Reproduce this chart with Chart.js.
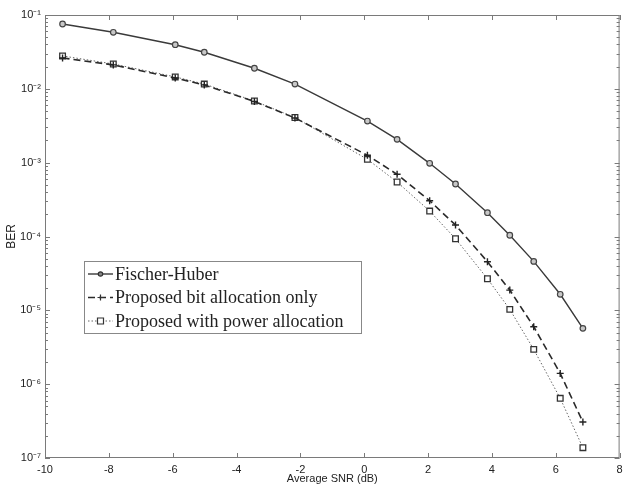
<!DOCTYPE html>
<html>
<head>
<meta charset="utf-8">
<script src="https://cdn.jsdelivr.net/npm/chart.js@4"></script>
<style>
  html, body { margin: 0; padding: 0; background: #fff; }
  #wrap { width: 625px; height: 489px; }
</style>
</head>
<body>
<div id="wrap"><canvas id="berChart"></canvas></div>
<script>
(() => {
    'use strict';

    // Average SNR (dB) at each simulated point
    const snr = [-9.45, -7.86, -5.92, -5.01, -3.44, -2.17, 0.10, 1.03, 2.05, 2.86, 3.86, 4.56, 5.31, 6.14, 6.85];

    const fischerHuber = [7.55e-2, 5.83e-2, 3.96e-2, 3.13e-2, 1.90e-2, 1.16e-2, 3.66e-3, 2.07e-3, 9.8e-4, 5.14e-4, 2.10e-4, 1.04e-4, 4.6e-5, 1.65e-5, 5.7e-6];
    const bitOnly = [2.62e-2, 2.11e-2, 1.40e-2, 1.13e-2, 6.73e-3, 4.03e-3, 1.26e-3, 6.96e-4, 3.05e-4, 1.43e-4, 4.56e-5, 1.88e-5, 6.0e-6, 1.40e-6, 3.07e-7];
    const powerAlloc = [2.79e-2, 2.17e-2, 1.45e-2, 1.16e-2, 6.84e-3, 4.09e-3, 1.11e-3, 5.47e-4, 2.21e-4, 9.33e-5, 2.68e-5, 1.03e-5, 2.96e-6, 6.43e-7, 1.38e-7];

    const seriesNames = ['Fischer-Huber', 'Proposed bit allocation only', 'Proposed with power allocation'];
    const xTicks = [-10, -8, -6, -4, -2, 0, 2, 4, 6, 8];
    const yDecades = [1e-7, 1e-6, 1e-5, 1e-4, 1e-3, 1e-2, 1e-1];

    const sup = { '-': '⁻', '0': '⁰', '1': '¹', '2': '²', '3': '³', '4': '⁴', '5': '⁵', '6': '⁶', '7': '⁷', '8': '⁸', '9': '⁹' };
    const powLabel = v => '10' + String(Math.round(Math.log10(v))).split('').map(c => sup[c]).join('');

    const toPoints = ys => ys.map((y, i) => ({ x: snr[i], y }));
    const ink = '#333';
    const frame = '#7a7a7a';
    const labelFont = { family: 'Liberation Sans, Arial', size: 11 };

    // MATLAB-like box with inward ticks on all four sides
    const boxTicks = {
        id: 'boxTicks',
        afterDraw(chart) {
            const { ctx, chartArea: a, scales: { x, y } } = chart;
            ctx.save();
            ctx.strokeStyle = frame;
            ctx.lineWidth = 1;
            ctx.strokeRect(a.left + 0.5, a.top + 0.5, a.right - a.left - 1, a.bottom - a.top - 1);
            ctx.beginPath();
            xTicks.forEach(v => {
                const px = Math.round(x.getPixelForValue(v)) + 0.5;
                ctx.moveTo(px, a.bottom); ctx.lineTo(px, a.bottom - 5);
                ctx.moveTo(px, a.top); ctx.lineTo(px, a.top + 5);
            });
            yDecades.forEach((d, i) => {
                const py = Math.round(y.getPixelForValue(d)) + 0.5;
                ctx.moveTo(a.left, py); ctx.lineTo(a.left + 5, py);
                ctx.moveTo(a.right, py); ctx.lineTo(a.right - 5, py);
                if (i === yDecades.length - 1) return;
                for (let k = 2; k <= 9; k++) {
                    const my = Math.round(y.getPixelForValue(d * k)) + 0.5;
                    ctx.moveTo(a.left, my); ctx.lineTo(a.left + 3, my);
                    ctx.moveTo(a.right, my); ctx.lineTo(a.right - 3, my);
                }
            });
            ctx.stroke();
            ctx.restore();
        }
    };

    // legend box drawn inside the plot, lower left
    const boxLegend = {
        id: 'boxLegend',
        afterDraw(chart) {
            const { ctx, chartArea: a } = chart;
            const left = a.left + 39, top = a.top + 246, w = 277, h = 72;
            ctx.save();
            ctx.fillStyle = '#fff';
            ctx.fillRect(left, top, w, h);
            ctx.strokeStyle = '#888';
            ctx.lineWidth = 1;
            ctx.strokeRect(left + 0.5, top + 0.5, w, h);
            ctx.font = '18px "Liberation Serif", "Times New Roman", serif';
            ctx.textBaseline = 'middle';
            chart.data.datasets.forEach((ds, i) => {
                const cy = top + 13 + i * 23.5;
                const x0 = left + 4, x1 = left + 29;
                ctx.strokeStyle = ds.borderColor;
                ctx.lineWidth = ds.borderWidth;
                ctx.setLineDash(ds.borderDash || []);
                ctx.beginPath();
                ctx.moveTo(x0, cy); ctx.lineTo(x1, cy);
                ctx.stroke();
                ctx.setLineDash([]);
                const mx = (x0 + x1) / 2;
                ctx.lineWidth = 1.2;
                ctx.beginPath();
                if (ds.pointStyle === 'circle') {
                    ctx.arc(mx, cy, 2.2, 0, Math.PI * 2);
                    ctx.fillStyle = '#888';
                    ctx.fill();
                } else if (ds.pointStyle === 'cross') {
                    ctx.moveTo(mx - 3, cy); ctx.lineTo(mx + 3, cy);
                    ctx.moveTo(mx, cy - 3); ctx.lineTo(mx, cy + 3);
                } else {
                    ctx.fillStyle = '#fff';
                    ctx.fillRect(mx - 3, cy - 3, 6, 6);
                    ctx.rect(mx - 3, cy - 3, 6, 6);
                }
                ctx.strokeStyle = ink;
                ctx.stroke();
                ctx.fillStyle = '#222';
                ctx.fillText(ds.label, left + 31, cy + 1);
            });
            ctx.restore();
        }
    };

    new Chart(document.getElementById('berChart'), {
        type: 'scatter',
        data: {
            datasets: [
                { label: seriesNames[0], data: toPoints(fischerHuber), showLine: true, borderColor: '#3a3a3a', borderWidth: 1.4, pointStyle: 'circle', pointRadius: 2.8, pointBorderWidth: 1.2, pointBorderColor: '#444', pointBackgroundColor: '#c8c8c8' },
                { label: seriesNames[1], data: toPoints(bitOnly), showLine: true, borderColor: '#2a2a2a', borderWidth: 1.6, borderDash: [7, 4], pointStyle: 'cross', pointRadius: 3.5, pointBorderWidth: 1.4, pointBorderColor: '#222' },
                { label: seriesNames[2], data: toPoints(powerAlloc), showLine: true, borderColor: '#666', borderWidth: 1, borderDash: [1.5, 2], pointStyle: 'rect', pointRadius: 4, pointBorderWidth: 1.3, pointBorderColor: '#333', pointBackgroundColor: '#fff' }
            ]
        },
        options: {
            responsive: true,
            maintainAspectRatio: false,
            animation: false,
            layout: { padding: { top: 15, right: 2, left: 4, bottom: 3 } },
            plugins: { legend: { display: false }, tooltip: { enabled: false } },
            scales: {
                x: {
                    type: 'linear', min: -10, max: 8,
                    afterBuildTicks: s => { s.ticks = xTicks.map(v => ({ value: v })); },
                    afterFit: s => { s.height = 28; },
                    grid: { display: false },
                    border: { display: false },
                    ticks: { color: '#222', font: labelFont, padding: -3, maxRotation: 0 },
                    title: { display: true, text: 'Average SNR (dB)', color: '#222', font: labelFont, padding: { top: 0, bottom: 0 } }
                },
                y: {
                    type: 'logarithmic', min: 1e-7, max: 1e-1,
                    afterBuildTicks: s => { s.ticks = yDecades.map(v => ({ value: v })); },
                    afterFit: s => { s.width = 41; },
                    grid: { display: false },
                    border: { display: false },
                    ticks: { color: '#222', font: labelFont, padding: -4, callback: v => powLabel(v) },
                    title: { display: true, text: 'BER', color: '#222', font: { family: 'Liberation Sans, Arial', size: 12 }, padding: { top: 0, bottom: 0 } }
                }
            }
        },
        plugins: [boxTicks, boxLegend]
    });
})();
</script>
</body>
</html>
